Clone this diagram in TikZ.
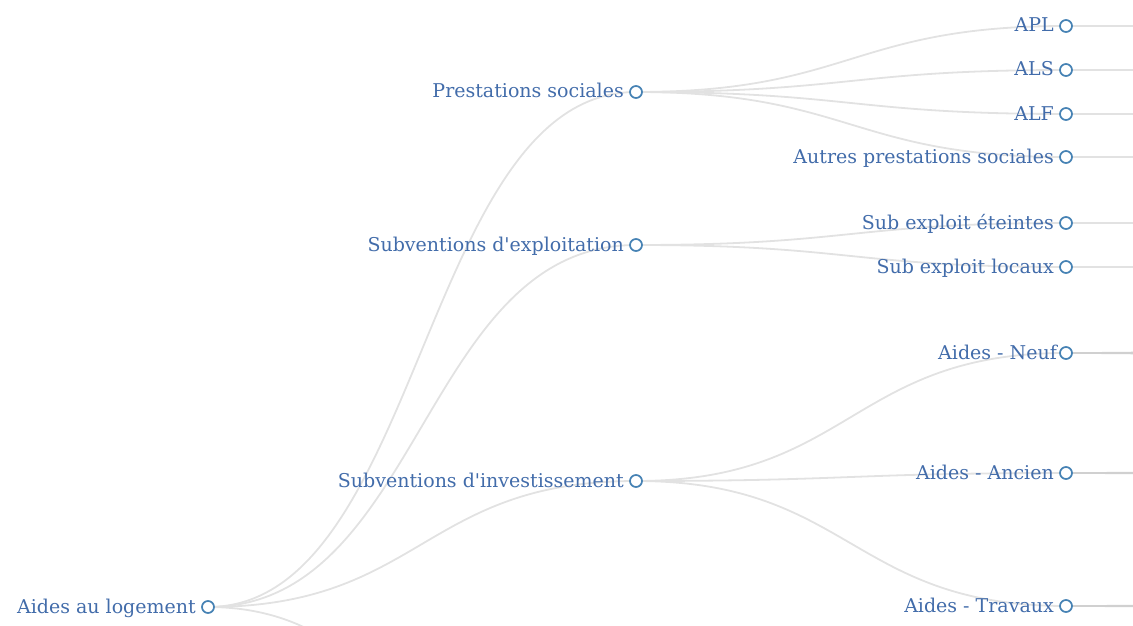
\documentclass[tikz,border=0pt]{standalone}
\usepackage{fontspec}
\newfontfamily\lbl{DejaVu Serif}
\usetikzlibrary{calc}
\definecolor{txt}{RGB}{66,108,170}
\definecolor{dotc}{RGB}{70,130,180}
\definecolor{lnk}{RGB}{226,226,226}
\pgfdeclarelayer{bg}
\pgfsetlayers{bg,main}
\tikzset{
  dot/.style={circle,draw=dotc,fill=white,line width=1.7pt,minimum size=12pt,inner sep=0pt},
  lbl/.style={anchor=base east,text=txt,inner sep=0pt,font=\lbl\fontsize{19}{19}\selectfont},
  link/.style={draw=lnk,line width=1.8pt},
  dlk/.style={draw=lnk!92!black,line width=1.8pt},
}
\newcommand\dlink[3][link]{\path[#1] let \p1=(#2), \p2=(#3) in (\p1) .. controls ({(\x1+\x2)/2},\y1) and ({(\x1+\x2)/2},\y2) .. (\p2);}
\begin{document}
\begin{tikzpicture}[x=1pt,y=-1pt]
\useasboundingbox (0,0) rectangle (1133,626);
\clip (0,0) rectangle (1133,626);
% circles
\node[dot] (root) at (208,607) {};
\node[dot] (ps) at (636,92) {};
\node[dot] (se) at (636,245) {};
\node[dot] (si) at (636,481) {};
\node[dot] (apl) at (1066,26) {};
\node[dot] (als) at (1066,70) {};
\node[dot] (alf) at (1066,114) {};
\node[dot] (aps) at (1066,157) {};
\node[dot] (see) at (1066,223) {};
\node[dot] (sel) at (1066,267) {};
\node[dot] (neuf) at (1066,353) {};
\node[dot] (anc) at (1066,473) {};
\node[dot] (trav) at (1066,606) {};
% off-screen children
\coordinate (rootx) at (636,850);
\coordinate (aplx) at (1496,26);
\coordinate (alsx) at (1496,70);
\coordinate (alfx) at (1496,114);
\coordinate (apsx) at (1496,157);
\coordinate (seex) at (1496,223);
\coordinate (selx) at (1496,267);
\coordinate (neufa) at (1496,343);
\coordinate (neufb) at (1496,353);
\coordinate (neufc) at (1496,363);
\coordinate (anca) at (1496,465);
\coordinate (ancb) at (1496,473);
\coordinate (ancc) at (1496,481);
\coordinate (trava) at (1496,598);
\coordinate (travb) at (1496,606);
\coordinate (travc) at (1496,614);
% labels
\node[lbl] (troot) at ([xshift=-12pt,yshift=-6pt]root.center) {Aides au logement};
\node[lbl] (tps) at ([xshift=-12pt,yshift=-6pt]ps.center) {Prestations sociales};
\node[lbl] (tse) at ([xshift=-12pt,yshift=-6pt]se.center) {Subventions d'exploitation};
\node[lbl] (tsi) at ([xshift=-12pt,yshift=-6pt]si.center) {Subventions d'investissement};
\node[lbl] (tapl) at ([xshift=-12pt,yshift=-6pt]apl.center) {APL};
\node[lbl] (tals) at ([xshift=-12pt,yshift=-6pt]als.center) {ALS};
\node[lbl] (talf) at ([xshift=-12pt,yshift=-6pt]alf.center) {ALF};
\node[lbl] (taps) at ([xshift=-12pt,yshift=-6pt]aps.center) {Autres prestations sociales};
\node[lbl] (tsee) at ([xshift=-12pt,yshift=-6pt]see.center) {Sub exploit éteintes};
\node[lbl] (tsel) at ([xshift=-12pt,yshift=-6pt]sel.center) {Sub exploit locaux};
\node[lbl] (tneuf) at ([xshift=-9pt,yshift=-6pt]neuf.center) {Aides - Neuf};
\node[lbl] (tanc) at ([xshift=-12pt,yshift=-6pt]anc.center) {Aides - Ancien};
\node[lbl] (ttrav) at ([xshift=-12pt,yshift=-6pt]trav.center) {Aides - Travaux};
\begin{pgfonlayer}{bg}
\dlink{root.center}{ps.center}
\dlink{root.center}{se.center}
\dlink{root.center}{si.center}
\dlink{root.center}{rootx}
\dlink{ps.center}{apl.center}
\dlink{ps.center}{als.center}
\dlink{ps.center}{alf.center}
\dlink{ps.center}{aps.center}
\dlink{se.center}{see.center}
\dlink{se.center}{sel.center}
\dlink{si.center}{neuf.center}
\dlink{si.center}{anc.center}
\dlink{si.center}{trav.center}
\dlink{apl.center}{aplx}
\dlink{als.center}{alsx}
\dlink{alf.center}{alfx}
\dlink{aps.center}{apsx}
\dlink{see.center}{seex}
\dlink{sel.center}{selx}
\dlink[dlk]{neuf.center}{neufa}
\dlink[dlk]{neuf.center}{neufb}
\dlink[dlk]{neuf.center}{neufc}
\dlink[dlk]{anc.center}{anca}
\dlink[dlk]{anc.center}{ancb}
\dlink[dlk]{anc.center}{ancc}
\dlink[dlk]{trav.center}{trava}
\dlink[dlk]{trav.center}{travb}
\dlink[dlk]{trav.center}{travc}
\end{pgfonlayer}
\end{tikzpicture}
\end{document}
